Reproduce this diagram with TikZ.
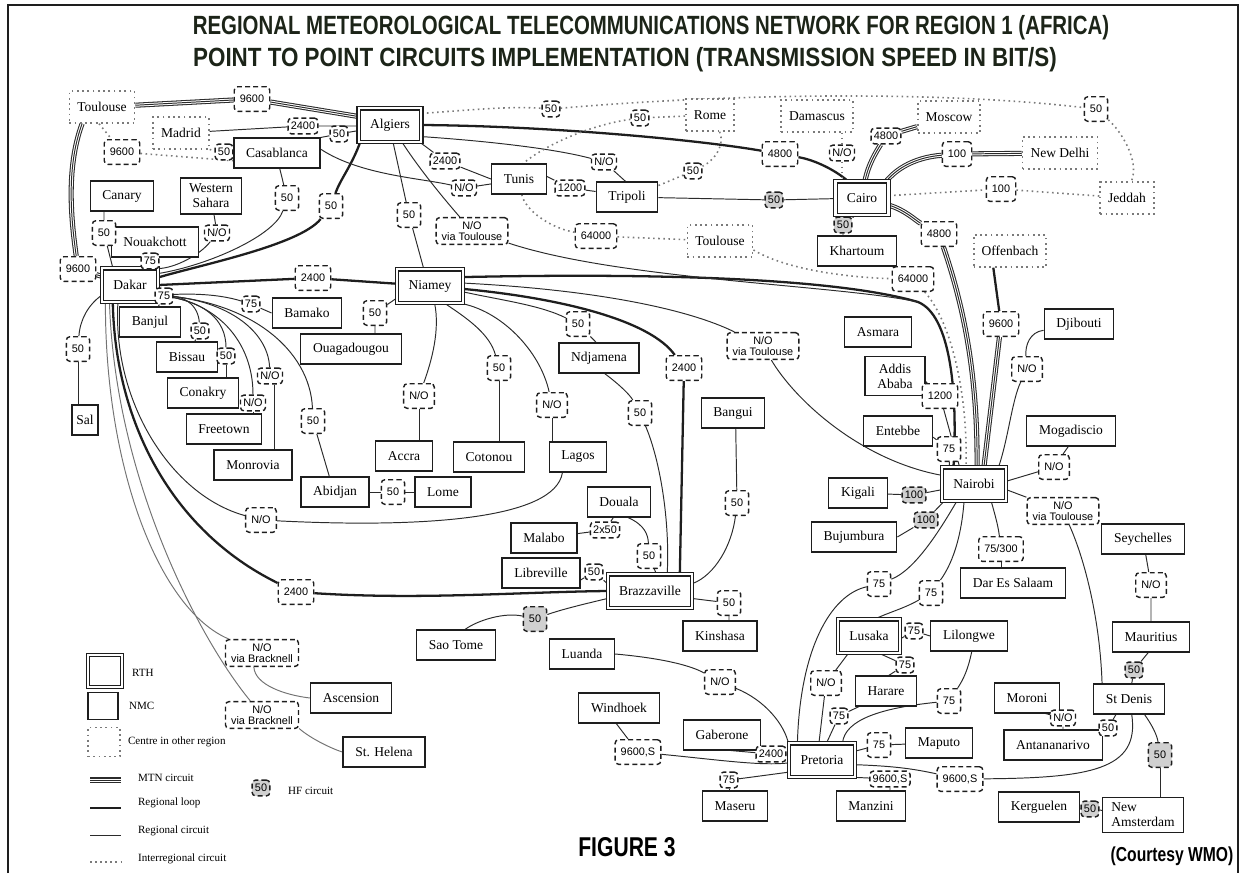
\documentclass[tikz,border=0pt]{standalone}
\usepackage{fontspec}
\setmainfont{Liberation Serif}
\setsansfont{Liberation Sans}
\newfontfamily\headfont[FakeStretch=0.775]{Liberation Sans}
\newfontfamily\headfontwide[FakeStretch=0.85]{Liberation Sans}
\usetikzlibrary{backgrounds}
\definecolor{ink}{HTML}{1E1E1E}
\definecolor{wire}{HTML}{2B2B2B}
\definecolor{dots}{HTML}{7A7A7A}
\definecolor{hfgray}{HTML}{D0D0D0}
\definecolor{headink}{HTML}{1C2418}
\newcommand{\citysz}{\fontsize{7.7}{8.4}\selectfont}
\newcommand{\tagsz}{\sffamily\fontsize{6.2}{6.7}\selectfont}
\newcommand{\keysz}{\fontsize{6.3}{7}\selectfont}
\tikzset{
  city/.style={draw=ink,line width=0.7pt,fill=white,font=\citysz,inner xsep=7pt,inner ysep=2pt,minimum height=17pt,align=center},
  rth/.style={city,double=white,double distance=1.3pt,line width=0.6pt,inner xsep=6.5pt,minimum height=19pt},
  extc/.style={draw=dots,dotted,line width=1pt,fill=white,font=\citysz,inner xsep=4.5pt,minimum height=18pt},
  lbl/.style={draw=ink,dash pattern=on 2.8pt off 1.8pt,rounded corners=2pt,line width=0.8pt,fill=white,font=\tagsz,inner xsep=3.2pt,inner ysep=1.5pt,minimum height=14pt,align=center},
  tag/.style={lbl,inner xsep=1.6pt,inner ysep=1pt,minimum height=9pt},
  hf/.style={fill=hfgray},
  keytext/.style={font=\keysz,anchor=west,inner sep=1pt},
  mtnc/.style={draw=wire,line width=2.9pt,postaction={draw=white,line width=1.7pt},postaction={draw=wire,line width=0.55pt}},
  rloop/.style={draw=ink,line width=1.3pt},
  rcirc/.style={draw=wire,line width=0.55pt},
  rfaint/.style={draw=black!55,line width=0.55pt},
  icirc/.style={draw=dots,dotted,line width=0.9pt}
}
\begin{document}
\begin{tikzpicture}[x=0.02cm,y=-0.02cm]
\useasboundingbox (0,0) rectangle (1241,873);
\draw[ink,line width=0.8pt] (8,873) -- (8,5) -- (1238,5) -- (1238,873);

\node[text=headink,font=\headfont\bfseries\fontsize{15}{18}\selectfont] (title1) at (651,28) {REGIONAL METEOROLOGICAL TELECOMMUNICATIONS NETWORK FOR REGION 1 (AFRICA)};
\node[text=headink,font=\headfontwide\bfseries\fontsize{15}{18}\selectfont] (title2) at (625,60) {POINT TO POINT CIRCUITS IMPLEMENTATION (TRANSMISSION SPEED IN BIT/S)};

% regional telecommunication hubs
\node[rth] (algiers) at (390,125) {Algiers};
\node[rth] (dakar) at (130,285) {Dakar};
\node[rth] (niamey) at (430,286) {Niamey};
\node[rth] (cairo) at (862,198) {Cairo};
\node[rth] (brazza) at (650,591) {Brazzaville};
\node[rth] (nairobi) at (974,484) {Nairobi};
\node[rth] (lusaka) at (869,636) {Lusaka};
\node[rth] (pretoria) at (822,760) {Pretoria};

% centres in other regions
\node[extc] (tlsW) at (102,107) {Toulouse};
\node[extc] (madrid) at (181,133) {Madrid};
\node[extc] (rome) at (710,115) {Rome};
\node[extc] (damascus) at (817,116) {Damascus};
\node[extc] (moscow) at (949,117) {Moscow};
\node[extc] (delhi) at (1060,153) {New Delhi};
\node[extc] (jeddah) at (1127,198) {Jeddah};
\node[extc] (offenbach) at (1010,251) {Offenbach};
\node[extc] (tlsE) at (720,241) {Toulouse};

% national centres
\node[city] (casa) at (277,153) {Casablanca};
\node[city] (canary) at (122,196) {Canary};
\node[city,inner xsep=5pt,inner ysep=3.5pt] (wsahara) at (211,196) {Western\\Sahara};
\node[city] (nouak) at (155,242) {Nouakchott};
\node[city] (banjul) at (150,322) {Banjul};
\node[city] (bissau) at (187,357) {Bissau};
\node[city] (conakry) at (203,393) {Conakry};
\node[city] (freetown) at (224,429) {Freetown};
\node[city] (monrovia) at (253,465) {Monrovia};
\node[city] (abidjan) at (335,492) {Abidjan};
\node[city,inner xsep=2.5pt] (sal) at (85,420) {Sal};
\node[city] (bamako) at (307,313) {Bamako};
\node[city] (ouaga) at (351,349) {Ouagadougou};
\node[city] (accra) at (404,456) {Accra};
\node[city] (lome) at (443,492) {Lome};
\node[city] (cotonou) at (489,457) {Cotonou};
\node[city] (lagos) at (578,457) {Lagos};
\node[city] (ndjamena) at (599,358) {Ndjamena};
\node[city] (bangui) at (733,413) {Bangui};
\node[city] (douala) at (619,502) {Douala};
\node[city] (malabo) at (544,538) {Malabo};
\node[city] (libreville) at (541,573) {Libreville};
\node[city] (saotome) at (456,645) {Sao Tome};
\node[city] (kinshasa) at (720,636) {Kinshasa};
\node[city] (luanda) at (582,654) {Luanda};
\node[city] (windhoek) at (619,708) {Windhoek};
\node[city] (gaberone) at (722,735) {Gaberone};
\node[city] (maseru) at (735,806) {Maseru};
\node[city] (manzini) at (871,806) {Manzini};
\node[city] (maputo) at (939,743) {Maputo};
\node[city] (harare) at (886,691) {Harare};
\node[city] (lilongwe) at (969,636) {Lilongwe};
\node[city] (moroni) at (1027,698) {Moroni};
\node[city] (antana) at (1053,745) {Antananarivo};
\node[city] (stdenis) at (1129,699) {St Denis};
\node[city] (mauritius) at (1151,637) {Mauritius};
\node[city] (kerguelen) at (1039,807) {Kerguelen};
\node[city,align=left,inner xsep=5pt,inner ysep=3pt] (newams) at (1143,815) {New\\Amsterdam};
\node[city] (seychelles) at (1143,539) {Seychelles};
\node[city] (dar) at (1013,583) {Dar Es Salaam};
\node[city] (bujumbura) at (854,537) {Bujumbura};
\node[city] (kigali) at (858,493) {Kigali};
\node[city] (entebbe) at (898,431) {Entebbe};
\node[city,inner ysep=4pt] (addis) at (895,376) {Addis\\Ababa};
\node[city] (asmara) at (878,332) {Asmara};
\node[city] (mogadiscio) at (1071,431) {Mogadiscio};
\node[city] (djibouti) at (1079,324) {Djibouti};
\node[city] (khartoum) at (857,251) {Khartoum};
\node[city] (tripoli) at (627,197) {Tripoli};
\node[city] (tunis) at (519,179) {Tunis};
\node[city] (ascension) at (351,698) {Ascension};
\node[city] (sthelena) at (384,752) {St. Helena};

% circuit speeds, west
\node[lbl] (la1) at (252,99) {9600};
\node[tag] (la2) at (303,126) {2400};
\node[tag] (la3) at (339,134) {50};
\node[lbl] (la4) at (122,152) {9600};
\node[tag] (la5) at (224,152) {50};
\node[lbl] (la6) at (287,198) {50};
\node[lbl] (la7) at (331,206) {50};
\node[tag] (la8) at (217,233) {N/O};
\node[lbl] (la9) at (104,233) {50};
\node[tag] (la10) at (150,261) {75};
\node[lbl] (la11) at (78,269) {9600};
\node[lbl] (la12) at (313,278) {2400};
\node[tag] (la13) at (164,296) {75};
\node[tag] (la14) at (251,304) {75};
\node[lbl] (la15) at (375,313) {50};
\node[lbl] (la16) at (78,349) {50};
\node[tag] (la17) at (200,331) {50};
\node[tag] (la18) at (226,356) {50};
\node[tag] (la19) at (270,376) {N/O};
\node[tag] (la20) at (253,403) {N/O};
\node[lbl] (la21) at (313,421) {50};
\node[lbl] (la22) at (261,520) {N/O};
\node[lbl] (la23) at (296,592) {2400};
\node[lbl] (la24) at (393,492) {50};
\node[lbl,inner ysep=2pt] (la25) at (262,653) {N/O\\via Bracknell};
\node[lbl,inner ysep=2pt] (la26) at (262,715) {N/O\\via Bracknell};

% circuit speeds, centre
\node[lbl] (lb1) at (409,215) {50};
\node[lbl] (lb2) at (419,396) {N/O};
\node[lbl] (lb3) at (499,368) {50};
\node[lbl] (lb4) at (552,405) {N/O};
\node[lbl] (lb5) at (578,324) {50};
\node[lbl] (lb6) at (684,368) {2400};
\node[lbl,inner ysep=2pt] (lb7) at (763,346) {N/O\\via Toulouse};
\node[lbl,inner ysep=2pt] (lb8) at (472,231) {N/O\\via Toulouse};
\node[lbl] (lc1) at (640,413) {50};
\node[lbl] (lc2) at (737,503) {50};
\node[tag] (lc3) at (605,530) {2x50};
\node[lbl] (lc4) at (649,556) {50};
\node[tag] (lc5) at (594,572) {50};
\node[lbl] (lc6) at (729,603) {50};
\node[lbl,hf] (lc7) at (535,619) {50};

% circuit speeds, north
\node[tag] (ld1) at (445,161) {2400};
\node[tag] (ld2) at (464,188) {N/O};
\node[tag] (ld3) at (604,162) {N/O};
\node[tag] (ld4) at (570,188) {1200};
\node[lbl] (ld5) at (780,154) {4800};
\node[tag,hf] (ld6) at (774,200) {50};
\node[tag] (ld7) at (551,109) {50};
\node[tag] (ld8) at (640,118) {50};
\node[tag] (ld9) at (693,171) {50};
\node[lbl] (ld10) at (596,236) {64000};
\node[tag] (le1) at (886,136) {4800};
\node[tag] (le2) at (842,153) {N/O};
\node[lbl] (le3) at (957,154) {100};
\node[lbl] (le4) at (1001,189) {100};
\node[lbl] (le5) at (1096,109) {50};
\node[tag,hf] (le6) at (843,225) {50};
\node[lbl] (le7) at (939,234) {4800};
\node[lbl] (le8) at (913,279) {64000};
\node[lbl] (le9) at (1001,324) {9600};

% circuit speeds, east
\node[lbl] (lf1) at (940,396) {1200};
\node[lbl] (lf2) at (949,449) {75};
\node[tag,hf] (lf3) at (914,495) {100};
\node[tag,hf] (lf4) at (926,520) {100};
\node[lbl] (lf5) at (1027,369) {N/O};
\node[lbl] (lf6) at (1054,467) {N/O};
\node[lbl,inner ysep=2pt] (lf7) at (1063,511) {N/O\\via Toulouse};
\node[lbl] (lf8) at (1001,549) {75/300};
\node[lbl] (lf9) at (879,584) {75};
\node[lbl] (lf10) at (931,593) {75};
\node[lbl] (lf11) at (1151,585) {N/O};

% circuit speeds, south
\node[lbl] (lg1) at (720,682) {N/O};
\node[lbl] (lg2) at (638,752) {9600,S};
\node[tag] (lg3) at (771,754) {2400};
\node[tag] (lg4) at (729,780) {75};
\node[lbl] (lg5) at (826,683) {N/O};
\node[tag] (lg6) at (839,716) {75};
\node[tag] (lg7) at (905,665) {75};
\node[tag] (lg8) at (914,631) {75};
\node[lbl] (lg9) at (949,701) {75};
\node[lbl] (lg10) at (879,745) {75};
\node[tag] (lg11) at (890,779) {9600,S};
\node[lbl] (lg12) at (960,779) {9600,S};
\node[tag] (lg13) at (1063,718) {N/O};
\node[tag] (lg14) at (1108,728) {50};
\node[tag,hf] (lg15) at (1134,670) {50};
\node[lbl,hf] (lg16) at (1160,755) {50};
\node[tag,hf] (lg17) at (1090,809) {50};

\coordinate (merge) at (918,302);

\begin{scope}[on background layer]
  % MTN circuits
  \draw[mtnc] (tlsW) -- (la1) -- (algiers.165);
  \draw[mtnc] (tlsW.220) .. controls (65,170) and (72,225) .. (la11);
  \draw[mtnc] (la11) -- (dakar);
  \draw[mtnc] (cairo.80) .. controls (868,165) and (876,152) .. (le1);
  \draw[mtnc] (le1) -- (moscow);
  \draw[mtnc] (cairo.35) .. controls (900,165) and (920,157) .. (le3);
  \draw[mtnc] (le3) -- (delhi);
  \draw[mtnc] (cairo.-15) .. controls (905,210) and (915,220) .. (le7);
  \draw[mtnc] (le7) .. controls (958,290) and (978,360) .. (nairobi.80);
  \draw[rloop] (offenbach.-135) -- (le9);
  \draw[mtnc] (le9) -- (nairobi.60);

  % regional loop
  \draw[rloop] (algiers.0) .. controls (550,126) and (700,140) .. (ld5);
  \draw[rloop] (ld5) .. controls (815,160) and (835,170) .. (cairo.130);
  \draw[rloop] (algiers.-150) .. controls (352,165) and (340,180) .. (la7);
  \draw[rloop] (la7) .. controls (300,245) and (200,265) .. (dakar.15);
  \draw[rloop] (dakar.east) -- (la12) -- (niamey);
  \draw[rloop] (dakar.-135) .. controls (115,420) and (170,530) .. (la23);
  \draw[rloop] (la23) .. controls (420,600) and (520,592) .. (brazza.west);
  \draw[rloop] (niamey.-5) .. controls (560,298) and (650,320) .. (lb6);
  \draw[rloop] (lb6) -- (brazza.30);
  \draw[rloop] (niamey.15) .. controls (700,272) and (850,282) .. (merge) .. controls (950,315) and (958,390) .. (nairobi.140);

  % regional circuits, west
  \draw[rcirc] (madrid) -- (la2) -- (la2 -| algiers.west);
  \draw[rcirc] (casa.north east) -- (la3) -- (algiers);
  \draw[rcirc] (casa.-80) -- (la6);
  \draw[rcirc] (la6) .. controls (275,235) and (210,265) .. (dakar.22);
  \draw[rcirc] (wsahara) -- (la8);
  \draw[rcirc] (la8) .. controls (200,255) and (175,268) .. (dakar.30);
  \draw[rcirc] (la9 |- canary.south) -- (la9) -- (dakar.135);
  \draw[rcirc] (la10 |- nouak.south) -- (la10) -- (la10 |- dakar.north);
  \draw[rcirc] (la13) -- (banjul);
  \draw[rcirc] (dakar.-20) .. controls (200,292) and (225,296) .. (la14);
  \draw[rcirc] (la14) -- (bamako.west);
  \draw[rcirc] (dakar.-20) .. controls (185,294) and (198,305) .. (la17);
  \draw[rcirc] (la17) -- (bissau);
  \draw[rcirc] (dakar.-20) .. controls (205,300) and (226,320) .. (la18);
  \draw[rcirc] (la18) -- (la18 |- conakry.north);
  \draw[rcirc] (dakar.-20) .. controls (215,300) and (253,340) .. (la20);
  \draw[rcirc] (la20) -- (la20 |- freetown.north);
  \draw[rcirc] (dakar.-20) .. controls (225,298) and (268,330) .. (la19);
  \draw[rcirc] (la19.-60) -- (la19.-60 |- monrovia.north);
  \draw[rcirc] (dakar.-20) .. controls (250,300) and (310,350) .. (la21);
  \draw[rcirc] (la21) -- (abidjan.110);
  \draw[rcirc] (dakar.200) .. controls (88,305) and (80,320) .. (la16);
  \draw[rcirc] (la16) -- (la16 |- sal.north);
  \draw[rcirc] (dakar.-125) .. controls (112,400) and (170,495) .. (la22);
  \draw[rcirc] (la22) .. controls (420,528) and (555,520) .. (lagos.-135);
  \draw[rcirc] (abidjan) -- (la24) -- (lome);
  \draw[rfaint] (dakar.-145) .. controls (105,470) and (160,610) .. (la25);
  \draw[rfaint] (la25.-120) .. controls (255,685) and (285,695) .. (ascension.west);
  \draw[rfaint] (dakar.-140) .. controls (115,480) and (200,640) .. (la26);
  \draw[rfaint] (la26.-20) .. controls (310,738) and (330,748) .. (sthelena.west);

  % regional circuits, centre
  \draw[rcirc] (algiers.-80) -- (lb1) -- (niamey.110);
  \draw[rcirc] (algiers.-55) .. controls (420,170) and (445,200) .. (lb8);
  \draw[rcirc] (lb8) .. controls (620,280) and (840,285) .. (merge);
  \draw[rcirc] (niamey.-160) -- (la15) -- (la15 |- ouaga.north);
  \draw[rcirc] (niamey.-75) .. controls (440,330) and (432,360) .. (lb2);
  \draw[rcirc] (lb2) -- (lb2 |- accra.north);
  \draw[rcirc] (niamey.-50) .. controls (470,320) and (490,335) .. (lb3);
  \draw[rcirc] (lb3) -- (lb3 |- cotonou.north);
  \draw[rcirc] (niamey.-30) .. controls (500,310) and (540,350) .. (lb4);
  \draw[rcirc] (lb4) -- (lb4 |- lagos.north);
  \draw[rcirc] (niamey.-10) .. controls (500,300) and (540,305) .. (lb5);
  \draw[rcirc] (lb5) -- (ndjamena.100);
  \draw[rcirc] (niamey.5) .. controls (600,290) and (690,310) .. (lb7);
  \draw[rcirc] (lb7) .. controls (795,400) and (860,460) .. (nairobi.165);
  \draw[rcirc] (ndjamena.-70) .. controls (620,385) and (630,395) .. (lc1);
  \draw[rcirc] (lc1) .. controls (660,460) and (670,520) .. (brazza.45);
  \draw[rcirc] (bangui.-80) -- (lc2);
  \draw[rcirc] (lc2) .. controls (732,545) and (715,575) .. (brazza.10);
  \draw[rcirc] (malabo) -- (lc3) -- (douala.-110);
  \draw[rcirc] (douala.-60) .. controls (645,525) and (648,535) .. (lc4);
  \draw[rcirc] (lc4) -- (brazza.70);
  \draw[rcirc] (libreville.-10) -- (lc5) -- (brazza.170);
  \draw[rcirc] (brazza.-10) -- (lc6) -- (lc6 |- kinshasa.north);
  \draw[rcirc] (brazza.-170) .. controls (580,605) and (560,610) .. (lc7);
  \draw[rcirc] (lc7) .. controls (505,612) and (478,620) .. (saotome.60);

  % regional circuits, north
  \draw[rcirc] (algiers.-30) -- (ld1) -- (tunis.west);
  \draw[rcirc] (casa.5) .. controls (360,175) and (420,178) .. (ld2);
  \draw[rcirc] (ld2) -- (tunis.-170);
  \draw[rcirc] (algiers.-20) .. controls (500,142) and (560,150) .. (ld3);
  \draw[rcirc] (ld3) -- (tripoli.95);
  \draw[rcirc] (tunis.5) -- (ld4) -- (tripoli.170);
  \draw[rcirc] (tripoli) -- (ld6) -- (cairo);
  \draw[rcirc] (cairo.-110) -- (le6) -- (le6 |- khartoum.north);

  % regional circuits, east
  \draw[rcirc] (addis.-10) -- (lf1) -- (nairobi.130);
  \draw[rcirc] (entebbe.-10) -- (lf2) -- (nairobi.145);
  \draw[rcirc] (kigali) -- (lf3) -- (nairobi.-170);
  \draw[rcirc] (bujumbura.east) -- (lf4) -- (nairobi.-150);
  \draw[rcirc] (djibouti.-170) .. controls (1030,332) and (1025,345) .. (lf5);
  \draw[rcirc] (lf5) .. controls (1012,400) and (1008,440) .. (nairobi.35);
  \draw[rcirc] (mogadiscio.-100) -- (lf6) -- (nairobi.5);
  \draw[rcirc] (nairobi.-10) -- (lf7);
  \draw[rcirc] (lf7) .. controls (1085,560) and (1100,620) .. (stdenis.150);
  \draw[rcirc] (nairobi.-45) .. controls (995,515) and (998,525) .. (lf8);
  \draw[rcirc] (lf8) -- (lf8 |- dar.north);
  \draw[rcirc] (nairobi.-135) .. controls (940,530) and (915,570) .. (lf9);
  \draw[rcirc] (lf9) .. controls (830,595) and (800,650) .. (pretoria.145);
  \draw[rcirc] (nairobi.-120) .. controls (962,530) and (955,560) .. (lf10);
  \draw[rcirc] (lf10) .. controls (905,608) and (890,612) .. (lusaka.70);
  \draw[rcirc] (seychelles) -- (lf11) -- (lf11 |- mauritius.north);

  % regional circuits, south
  \draw[rcirc] (luanda.east) .. controls (660,658) and (690,665) .. (lg1);
  \draw[rcirc] (lg1) .. controls (765,700) and (785,725) .. (pretoria.155);
  \draw[rcirc] (windhoek.-100) -- (lg2);
  \draw[rcirc] (lg2) .. controls (720,760) and (760,766) .. (pretoria.-175);
  \draw[rcirc] (gaberone.-60) -- (lg3) -- (pretoria.170);
  \draw[rcirc] (pretoria.-160) .. controls (760,776) and (745,778) .. (lg4);
  \draw[rcirc] (lg4) -- (lg4 |- maseru.north);
  \draw[rcirc] (pretoria.100) -- (lg5) -- (lusaka.-140);
  \draw[rcirc] (pretoria.75) -- (lg6) -- (harare.-150);
  \draw[rcirc] (lusaka.-60) -- (lg7) -- (harare.80);
  \draw[rcirc] (lusaka.-5) -- (lg8) -- (lilongwe.west);
  \draw[rcirc] (lilongwe.-80) .. controls (968,670) and (963,680) .. (lg9);
  \draw[rcirc] (lg9) .. controls (880,708) and (845,720) .. (pretoria.40);
  \draw[rcirc] (pretoria.15) -- (lg10) -- (maputo);
  \draw[rcirc] (pretoria.-30) -- (lg11) -- (lg11 |- manzini.north);
  \draw[rcirc] (pretoria.-8) .. controls (890,766) and (910,768) .. (lg12);
  \draw[rcirc] (lg12) .. controls (1090,778) and (1140,770) .. (stdenis.-80);
  \draw[rcirc] (moroni.-40) -- (lg13) -- (lg13 |- antana.north);
  \draw[rcirc] (antana.10) -- (lg14) -- (stdenis.-130);
  \draw[rcirc] (mauritius.-100) -- (lg15) -- (stdenis.80);
  \draw[rcirc] (stdenis.-45) .. controls (1152,725) and (1157,735) .. (lg16);
  \draw[rcirc] (lg16) -- (lg16 |- newams.north);
  \draw[rcirc] (kerguelen) -- (lg17) -- (newams);

  % interregional circuits
  \draw[icirc] (tlsW.-100) -- (la4) -- (casa.-170);
  \draw[icirc] (madrid.-30) -- (la5) -- (casa);
  \draw[icirc] (algiers.20) .. controls (470,110) and (510,106) .. (ld7);
  \draw[icirc] (ld7) .. controls (750,92) and (950,92) .. (le5);
  \draw[icirc] (le5) .. controls (1120,130) and (1140,160) .. (jeddah.75);
  \draw[icirc] (rome) -- (ld8);
  \draw[icirc] (ld8) .. controls (590,125) and (545,145) .. (tunis.75);
  \draw[icirc] (rome.-60) .. controls (725,145) and (715,160) .. (ld9);
  \draw[icirc] (ld9) -- (tripoli.20);
  \draw[icirc] (tunis.-80) .. controls (525,210) and (550,228) .. (ld10);
  \draw[icirc] (ld10) -- (tlsE);
  \draw[icirc] (tlsE.-15) .. controls (790,272) and (860,278) .. (le8);
  \draw[icirc] (le8) .. controls (950,320) and (968,390) .. (nairobi.115);
  \draw[icirc] (le2 |- damascus.south) -- (le2) -- (le2 |- cairo.north);
  \draw[icirc] (cairo.5) -- (le4) -- (jeddah);
\end{scope}

% key
\node[rth,minimum width=0.68cm,minimum height=0.64cm,inner sep=0pt] (keyrth) at (105,671) {};
\node[city,minimum width=0.6cm,minimum height=0.54cm,inner sep=0pt] (keynmc) at (103,706) {};
\node[extc,minimum width=0.64cm,minimum height=0.58cm,inner sep=0pt] (keyext) at (104,742) {};
\node[keytext] (krth) at (130,673) {RTH};
\node[keytext] (knmc) at (127,706) {NMC};
\node[keytext] (kext) at (126,742) {Centre in other region};
\foreach \yy/\sty in {780/mtnc,808/rloop,835/rcirc,862/icirc}{
  \draw[\sty] (90,\yy) -- (121,\yy);
}
\node[keytext] (kmtn) at (136,778) {MTN circuit};
\node[keytext] (kloop) at (136,803) {Regional loop};
\node[keytext] (kcirc) at (136,831) {Regional circuit};
\node[keytext] (kinter) at (136,859) {Interregional circuit};
\node[tag,hf] (keyhf) at (261,788) {50};
\node[keytext] (khf) at (286,791) {HF circuit};

\node[text=black,font=\headfont\bfseries\fontsize{15.5}{18}\selectfont] (fig) at (627,847) {FIGURE 3};
\node[text=black,font=\headfont\bfseries\fontsize{11.5}{13}\selectfont] (credit) at (1172,856) {(Courtesy WMO)};
\end{tikzpicture}
\end{document}
